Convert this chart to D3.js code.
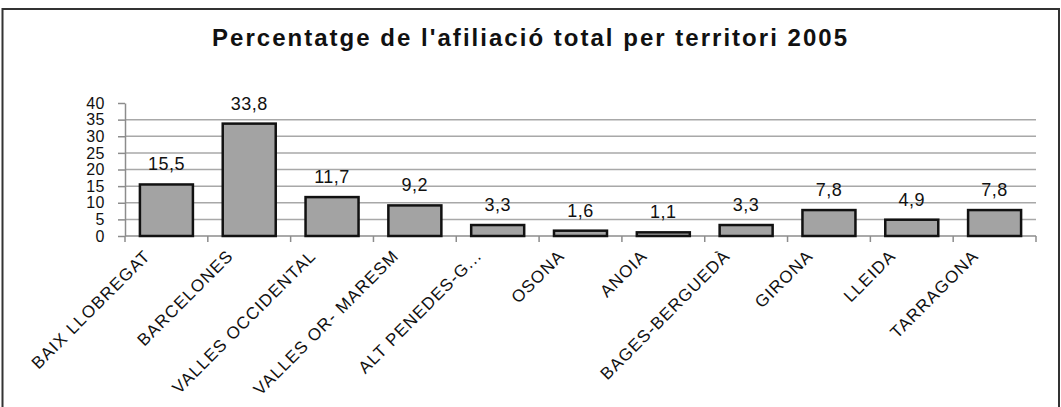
<!DOCTYPE html>
<html>

<head>
    <title>Afiliacio 2005</title>
    <script src="https://cdn.jsdelivr.net/npm/d3@7/dist/d3.min.js"></script>
    <style>
        body { margin: 0; background: #fff; }
        text { font-family: Arial, "Liberation Sans", sans-serif; }
    </style>
</head>

<body>
    <svg width="1061" height="407" id="mainsvg"></svg>
    <script>
        // data
        const territoris = ['BAIX LLOBREGAT', 'BARCELONES', 'VALLES OCCIDENTAL', 'VALLES OR- MARESM',
            'ALT PENEDES-G...', 'OSONA', 'ANOIA', 'BAGES-BERGUEDÀ', 'GIRONA', 'LLEIDA', 'TARRAGONA'];
        const percentatges = [15.5, 33.8, 11.7, 9.2, 3.3, 1.6, 1.1, 3.3, 7.8, 4.9, 7.8];
        const yTicks = [0, 5, 10, 15, 20, 25, 30, 35, 40];
        const titol = "Percentatge de l'afiliació total per territori 2005";

        const svg = d3.select('svg');
        const width = +svg.attr('width');
        const height = +svg.attr('height');
        const margin = { top: 103, right: 25, bottom: 171, left: 125 };

        // outer frame
        svg.append('rect')
            .attr('x', 2.5).attr('y', 9).attr('width', 1056.5).attr('height', height + 20)
            .attr('fill', 'none').attr('stroke', '#333').attr('stroke-width', 2);

        svg.append('text')
            .attr('x', 529.5).attr('y', 46)
            .attr('text-anchor', 'middle')
            .attr('font-size', 24).attr('font-weight', 'bold')
            .attr('textLength', 635).attr('lengthAdjust', 'spacing')
            .attr('fill', '#111')
            .text(titol);

        const x = d3.scaleBand()
            .domain(territoris)
            .range([margin.left, width - margin.right])
            .paddingInner(0.36).paddingOuter(0.18);
        const y = d3.scaleLinear()
            .domain([0, 40])
            .range([height - margin.bottom, margin.top]);

        // grid
        svg.append('g').selectAll('line')
            .data(yTicks.filter(d => d > 0 && d < 40)).join('line')
            .attr('x1', margin.left).attr('x2', width - margin.right)
            .attr('y1', d => y(d)).attr('y2', d => y(d))
            .attr('stroke', '#a8a8a8').attr('stroke-width', 1.5);

        // y axis
        const yAxis = svg.append('g')
            .attr('transform', `translate(${margin.left},0)`)
            .call(d3.axisLeft(y).tickValues(yTicks).tickSize(7).tickPadding(13).tickSizeOuter(0));
        yAxis.select('.domain').attr('stroke', '#8c8c8c').attr('stroke-width', 1.5);
        yAxis.selectAll('.tick line').attr('stroke', '#8c8c8c').attr('stroke-width', 1.5);
        yAxis.selectAll('.tick text')
            .attr('font-size', 16).attr('letter-spacing', 0.5).attr('fill', '#111').attr('font-family', null);

        // x axis
        const step = x.step();
        const boundaries = d3.range(territoris.length + 1).map(i => margin.left + i * step);
        svg.append('line')
            .attr('x1', margin.left).attr('x2', width - margin.right)
            .attr('y1', y(0)).attr('y2', y(0))
            .attr('stroke', '#8c8c8c').attr('stroke-width', 1.5);
        svg.append('g').selectAll('line')
            .data(boundaries).join('line')
            .attr('x1', d => d).attr('x2', d => d)
            .attr('y1', y(0)).attr('y2', y(0) + 6)
            .attr('stroke', '#8c8c8c').attr('stroke-width', 1.5);

        // bars
        svg.append('g').selectAll('rect')
            .data(percentatges).join('rect')
            .attr('x', (d, i) => x(territoris[i]))
            .attr('y', d => y(d))
            .attr('width', x.bandwidth())
            .attr('height', d => y(0) - y(d))
            .attr('fill', '#a3a3a3').attr('stroke', '#111').attr('stroke-width', 2.5);

        // value labels
        const fmt = d => d3.format('.1f')(d).replace('.', ',');
        svg.append('g').selectAll('text')
            .data(percentatges).join('text')
            .attr('x', (d, i) => x(territoris[i]) + x.bandwidth() / 2)
            .attr('y', d => y(d) - 14)
            .attr('text-anchor', 'middle')
            .attr('font-size', 18).attr('letter-spacing', 0.5)
            .attr('fill', '#111')
            .text(fmt);

        // rotated category labels
        svg.append('g').selectAll('text')
            .data(territoris).join('text')
            .attr('text-anchor', 'end')
            .attr('transform', d => `translate(${x(d) + x.bandwidth() / 2 - 15},${y(0) + 21}) rotate(-45)`)
            .attr('font-size', 17).attr('letter-spacing', 1.1)
            .attr('fill', '#111')
            .text(d => d);
    </script>
</body>

</html>
